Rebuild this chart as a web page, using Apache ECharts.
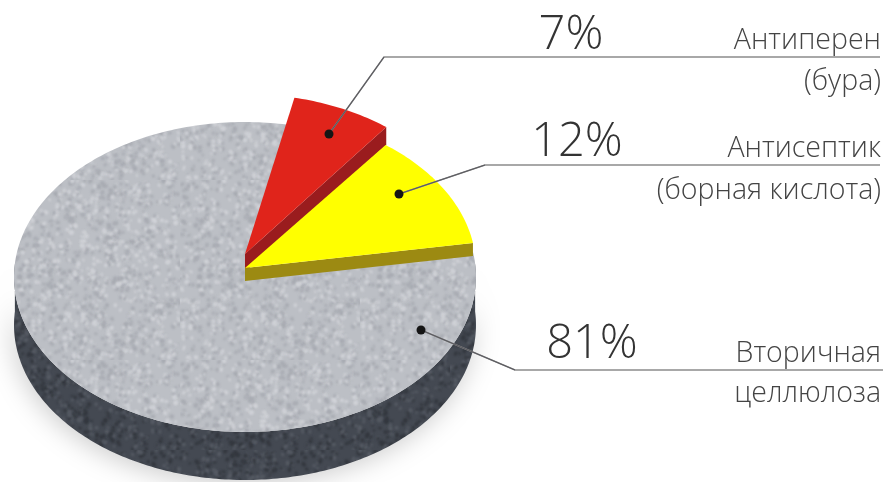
<!DOCTYPE html>
<html><head><meta charset="utf-8">
<style>html,body{margin:0;padding:0;background:#fff}#c{width:887px;height:482px}</style>
<script src="https://cdn.jsdelivr.net/npm/echarts@6/dist/echarts.min.js"></script>
</head><body><div id="c"></div>
<script>
// Data
const categories = ['Антиперен\n(бура)', 'Антисептик\n(борная кислота)', 'Вторичная\nцеллюлоза'];
const values = [7, 12, 81];

// Layout (not data)
const FIRST_ANGLE = 12.3;          // degrees clockwise from 12 o'clock
const disc = {cx: 245, cy: 277, rx: 231, ry: 155, wall: 48};
const sliceGeom = [
  {cx: 245, cy: 254, rx: 232, ry: 160, wall: 18, top: '#e0241b', side: '#9a1c1e', zSide: 3, zTop: 6},
  {cx: 245, cy: 268, rx: 231, ry: 155, wall: 13, top: '#ffff00', side: '#9c8a12', zSide: 4, zTop: 5},
  {cx: 245, cy: 277, rx: 231, ry: 155, wall: 0,  top: null,      side: null,      zSide: 1, zTop: 2}
];
const leaders = [
  [[329,134],[384,57],[880,57]],
  [[399,194],[485,165],[880,165]],
  [[421,330],[515,370],[883,370]]
];
const pctAnchor = [[571,59],[577,166],[592,368]];
const nameBase = [[47,88],[155,197],[360,400]];

function texture(base, light, dark, count, size) {
  const cv = document.createElement('canvas');
  cv.width = cv.height = size;
  const g = cv.getContext('2d');
  g.fillStyle = base; g.fillRect(0,0,size,size);
  const h = n => { const s = Math.sin(n*127.1)*43758.5453; return s-Math.floor(s); };
  g.filter = 'blur(1px)';
  for (let i=0;i<count;i++){
    g.fillStyle = h(i*3+1)>0.5 ? light : dark;
    g.beginPath();
    g.ellipse(h(i*3+2)*size, h(i*3+3)*size, 1+h(i+.5)*1.8, 1+h(i+.7)*1.3, h(i+.9)*3, 0, 6.3);
    g.fill();
  }
  return {image: cv, repeat: 'repeat'};
}
const greyFill = texture('#bcbfc5', '#d0d2d7', '#a8abb2', 1300, 180);
const wallFill = texture('#444952', '#565b64', '#33373e', 900, 150);

const pt = (g, a, off) => {
  const r = a*Math.PI/180;
  return [g.cx + g.rx*Math.sin(r), g.cy - g.ry*Math.cos(r) + (off||0)];
};
function arc(g, a0, a1, off) {
  const pts = [], n = Math.max(2, Math.ceil(Math.abs(a1-a0)));
  for (let i=0;i<=n;i++) pts.push(pt(g, a0+(a1-a0)*i/n, off));
  return pts;
}
const total = values.reduce((a,b)=>a+b,0);

function renderItem(params, api) {
  const i = params.dataIndex, v = api.value(0);
  let before = 0; for (let k=0;k<i;k++) before += values[k];
  const a0 = FIRST_ANGLE + before/total*360, a1 = a0 + v/total*360;
  const g = sliceGeom[i], kids = [];
  const centre = [g.cx, g.cy];
  if (i === 2) {
    const wallPts = arc(disc, 85, 275).concat(arc(disc, 275, 85, disc.wall));
    kids.push({type:'polygon', z2:g.zSide, silent:true, shape:{points:wallPts},
      style:{fill:wallFill, shadowBlur:26, shadowColor:'rgba(0,0,0,0.2)', shadowOffsetX:-2, shadowOffsetY:4}});
    kids.push({type:'polygon', z2:g.zTop, silent:true, shape:{points:[centre].concat(arc(g,a0,a1))}, style:{fill:greyFill}});
  } else {
    const e = pt(g, a1);
    kids.push({type:'polygon', z2:g.zSide, silent:true,
      shape:{points:[centre, e, [e[0], e[1]+g.wall], [centre[0], centre[1]+g.wall]]},
      style:{fill:g.side}});
    kids.push({type:'polygon', z2:g.zTop, silent:true, shape:{points:[centre].concat(arc(g,a0,a1))},
      style:{fill:g.top}});
  }
  const L = leaders[i];
  kids.push({type:'polyline', z2:20, silent:true, shape:{points:L},
    style:{fill:null, stroke:'#8c8c8c', lineWidth:1.4}});
  kids.push({type:'line', z2:20, silent:true, shape:{x1:L[0][0],y1:L[0][1],x2:L[1][0],y2:L[1][1]},
    style:{stroke:'#5b5b60', lineWidth:1.2}});
  kids.push({type:'circle', z2:21, silent:true, shape:{cx:L[0][0], cy:L[0][1], r:4.5}, style:{fill:'#151515'}});
  kids.push({type:'text', z2:22, silent:true, style:{text:v+'%', x:pctAnchor[i][0], y:pctAnchor[i][1],
    align:'center', verticalAlign:'bottom', fill:'#333', font:'300 47px "Open Sans"'}});
  categories[i].split('\n').forEach((t,k)=>{
    kids.push({type:'text', z2:22, silent:true, style:{text:t, x:881, y:nameBase[i][k]+8,
      align:'right', verticalAlign:'bottom', fill:'#444', font:'300 28.5px "Open Sans"'}});
  });
  return {type:'group', children:kids};
}

const chart = echarts.init(document.getElementById('c'));
chart.setOption({
  animation:false,
  backgroundColor:'#fff',
  series:[{type:'custom', coordinateSystem:'none', renderItem, silent:true,
    data: values.map((v,i)=>({name:categories[i], value:[v]}))}]
});
</script></body></html>
